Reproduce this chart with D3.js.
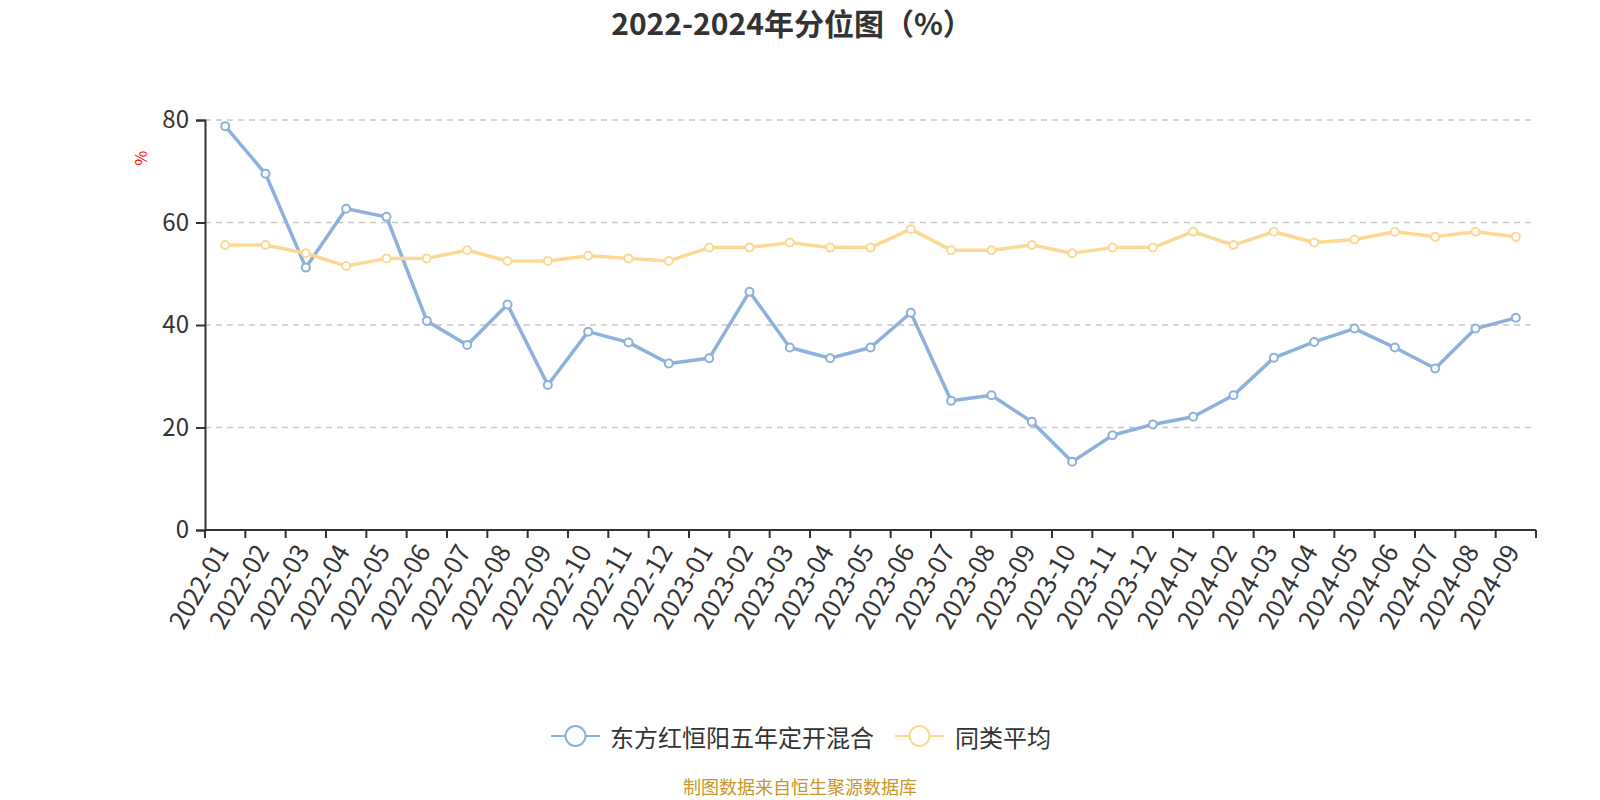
<!DOCTYPE html>
<html lang="zh">
<head>
  <meta charset="UTF-8">
  <title>2022-2024年分位图（%）</title>
  <style>
    body {
      margin: 0;
      padding: 0;
      background-color: #ffffff;
      font-family: "Noto Sans CJK SC", "Noto Sans", sans-serif;
    }
  </style>
</head>
<body>
<div id="chart"></div>
<script src="https://d3js.org/d3.v7.min.js"></script>
<script>
  const months = [
    "2022-01", "2022-02", "2022-03", "2022-04", "2022-05", "2022-06", "2022-07", "2022-08", "2022-09",
    "2022-10", "2022-11", "2022-12", "2023-01", "2023-02", "2023-03", "2023-04", "2023-05", "2023-06",
    "2023-07", "2023-08", "2023-09", "2023-10", "2023-11", "2023-12", "2024-01", "2024-02", "2024-03",
    "2024-04", "2024-05", "2024-06", "2024-07", "2024-08", "2024-09"
  ];
  const fundValues = [
    78.8, 69.5, 51.2, 62.7, 61.1, 40.8, 36.1, 44.0, 28.3,
    38.7, 36.6, 32.5, 33.5, 46.5, 35.6, 33.5, 35.6, 42.4,
    25.2, 26.3, 21.1, 13.3, 18.5, 20.6, 22.1, 26.3, 33.6,
    36.7, 39.3, 35.6, 31.5, 39.3, 41.4
  ];
  const avgValues = [
    55.6, 55.6, 54.0, 51.5, 53.0, 53.0, 54.6, 52.5, 52.5,
    53.5, 53.0, 52.5, 55.1, 55.1, 56.1, 55.1, 55.1, 58.7,
    54.6, 54.6, 55.6, 54.0, 55.1, 55.1, 58.2, 55.6, 58.2,
    56.1, 56.7, 58.2, 57.2, 58.2, 57.2
  ];
  const yTicks = [0, 20, 40, 60, 80];
  const seriesNames = ["东方红恒阳五年定开混合", "同类平均"];
  const seriesColors = ["#8eb0dd", "#fdd894"];

  const width = 1600;
  const height = 800;
  const margin = { top: 120, right: 64, bottom: 270, left: 205 };
  const innerW = width - margin.left - margin.right;
  const innerH = height - margin.top - margin.bottom;

  const svg = d3.select("#chart").append("svg")
    .attr("width", width)
    .attr("height", height);

  svg.append("text")
    .attr("x", 792)
    .attr("y", 22)
    .attr("text-anchor", "middle")
    .attr("dominant-baseline", "central")
    .attr("font-size", 30)
    .attr("font-weight", "bold")
    .attr("fill", "#333")
    .text("2022-2024年分位图（%）");

  const g = svg.append("g")
    .attr("transform", `translate(${margin.left},${margin.top})`);

  const x = d3.scaleBand().domain(months).range([0, innerW]);
  const y = d3.scaleLinear().domain([0, 80]).range([innerH, 0]);

  // grid lines
  g.selectAll("line.grid")
    .data(yTicks.filter(d => d > 0))
    .enter()
    .append("line")
    .attr("class", "grid")
    .attr("x1", 0)
    .attr("x2", innerW)
    .attr("y1", d => y(d))
    .attr("y2", d => y(d))
    .attr("stroke", "#c8c8c8")
    .attr("stroke-width", 1.5)
    .attr("stroke-dasharray", "6,5");

  // y axis
  const yAxis = g.append("g")
    .call(d3.axisLeft(y).tickValues(yTicks).tickSize(9).tickPadding(7));
  yAxis.select(".domain").attr("stroke", "#333").attr("stroke-width", 2);
  yAxis.selectAll(".tick line").attr("stroke", "#333").attr("stroke-width", 2);
  yAxis.selectAll(".tick text")
    .attr("font-size", 24)
    .attr("fill", "#333")
    .attr("font-family", "\"Noto Sans CJK SC\", sans-serif");

  // x axis with ticks on band boundaries
  const xAxisG = g.append("g").attr("transform", `translate(0,${innerH})`);
  xAxisG.append("line")
    .attr("x1", 0).attr("x2", innerW)
    .attr("y1", 0).attr("y2", 0)
    .attr("stroke", "#333").attr("stroke-width", 2);
  const boundaries = months.map(m => x(m)).concat([innerW]);
  xAxisG.selectAll("line.tick")
    .data(boundaries)
    .enter()
    .append("line")
    .attr("class", "tick")
    .attr("x1", d => d).attr("x2", d => d)
    .attr("y1", 0).attr("y2", 8)
    .attr("stroke", "#333").attr("stroke-width", 2);
  xAxisG.selectAll("text")
    .data(months)
    .enter()
    .append("text")
    .attr("transform", d => `translate(${x(d) + x.bandwidth() / 2 - 5},16) rotate(-60)`)
    .attr("text-anchor", "end")
    .attr("dominant-baseline", "central")
    .attr("font-size", 25)
    .attr("fill", "#333")
    .text(d => d);

  // y axis unit
  svg.append("text")
    .attr("transform", "translate(140,158) rotate(-90)")
    .attr("text-anchor", "middle")
    .attr("dominant-baseline", "central")
    .attr("font-size", 16)
    .attr("fill", "red")
    .text("%");

  const line = d3.line()
    .x((d, i) => x(months[i]) + x.bandwidth() / 2)
    .y(d => y(d));

  [fundValues, avgValues].forEach((vals, si) => {
    g.append("path")
      .datum(vals)
      .attr("fill", "none")
      .attr("stroke", seriesColors[si])
      .attr("stroke-width", 3.5)
      .attr("stroke-linejoin", "round")
      .attr("d", line);
    g.selectAll(`circle.s${si}`)
      .data(vals)
      .enter()
      .append("circle")
      .attr("class", `s${si}`)
      .attr("cx", (d, i) => x(months[i]) + x.bandwidth() / 2)
      .attr("cy", d => y(d))
      .attr("r", 4)
      .attr("fill", "#fff")
      .attr("stroke", seriesColors[si])
      .attr("stroke-width", 2);
  });

  // legend
  const legendItems = [
    { x: 551, textX: 610 },
    { x: 895, textX: 955 }
  ];
  legendItems.forEach((item, i) => {
    const lg = svg.append("g").attr("transform", `translate(${item.x},736)`);
    lg.append("line")
      .attr("x1", 0).attr("x2", 49)
      .attr("y1", 0).attr("y2", 0)
      .attr("stroke", seriesColors[i])
      .attr("stroke-width", 2);
    lg.append("circle")
      .attr("cx", 24.5).attr("cy", 0)
      .attr("r", 10)
      .attr("fill", "#fff")
      .attr("stroke", seriesColors[i])
      .attr("stroke-width", 2);
    svg.append("text")
      .attr("x", item.textX)
      .attr("y", 736)
      .attr("dominant-baseline", "central")
      .attr("font-size", 24)
      .attr("fill", "#333")
      .text(seriesNames[i]);
  });

  svg.append("text")
    .attr("x", 800)
    .attr("y", 786)
    .attr("text-anchor", "middle")
    .attr("dominant-baseline", "central")
    .attr("font-size", 18)
    .attr("fill", "#c8962a")
    .text("制图数据来自恒生聚源数据库");
</script>
</body>
</html>
